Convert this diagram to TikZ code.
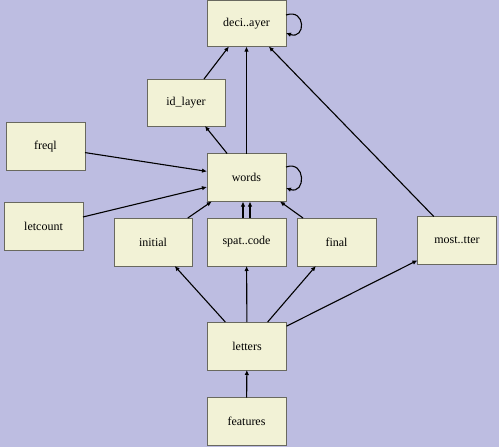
\documentclass[tikz,border=0pt]{standalone}
\usepackage{fontspec}
\setmainfont{Liberation Serif}
\usetikzlibrary{arrows.meta,calc}
\definecolor{bg}{RGB}{189,189,225}
\definecolor{nodefill}{RGB}{242,242,214}
\definecolor{nodeedge}{RGB}{105,105,95}
\begin{document}
\begin{tikzpicture}[x=1pt,y=-1pt,
  box/.style={draw=nodeedge,fill=nodefill,line width=0.9pt,minimum width=79pt,minimum height=48pt,inner sep=0pt,outer sep=0pt,font=\fontsize{12}{14}\selectfont},
  conn/.style={-{Latex[length=5pt,width=4.5pt]},line width=1.1pt}]
\fill[bg] (0,0) rectangle (499,447);
\useasboundingbox (0,0) rectangle (499,447);
\node[box,minimum height=46pt] (deci) at (246.5,23.5) {deci..ayer};
\node[box,minimum width=78pt,minimum height=47pt] (idl) at (186,102.5) {id\_layer};
\node[box] (freql) at (45.5,146.5) {freql};
\node[box] (words) at (246.5,177.5) {words};
\node[box] (letcount) at (43.5,226.5) {letcount};
\node[box,minimum width=78pt] (initial) at (153,242) {initial};
\node[box] (spat) at (246.5,242) {spat..code};
\node[box] (final) at (336.5,242) {final};
\node[box] (most) at (457,240.5) {most..tter};
\node[box] (letters) at (247,346) {letters};
\node[box] (features) at (246.5,421.5) {features};
% edges
\draw[conn] (deci.east |- 0,15) .. controls (306,8) and (306,40) .. (deci.east |- 0,33);
\draw[conn] (idl) -- (deci);
\draw[conn] (words) -- (deci);
\draw[conn] (most) -- (deci);
\draw[conn] (words) -- (idl);
\draw[conn] (freql) -- (words);
\draw[conn] (letcount) -- (words);
\draw[conn] (words.east |- 0,167) .. controls (306,160) and (306,195) .. (words.east |- 0,188);
\draw[conn] (initial) -- (words);
\draw[conn] ([xshift=-3.5pt]spat.north) -- ([xshift=-3.5pt]words.south);
\draw[conn] ([xshift=3.5pt]spat.north) -- ([xshift=3.5pt]words.south);
\draw[conn] (final) -- (words);
\draw[conn] (letters) -- (initial);
\draw[conn] (letters) -- (spat);
\draw[conn] (letters) -- (final);
\draw[conn] (letters) -- (most);
\draw[conn] (features) -- (letters);
\end{tikzpicture}
\end{document}
